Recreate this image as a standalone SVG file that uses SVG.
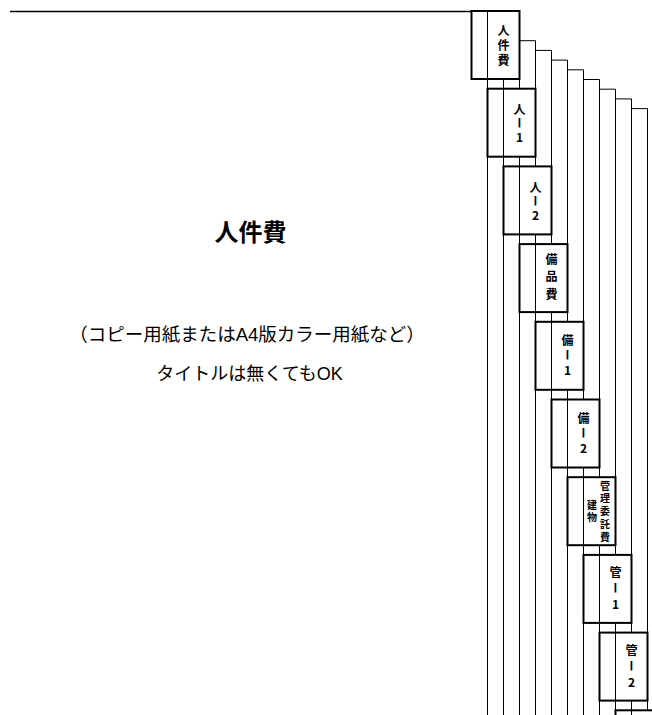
<svg xmlns="http://www.w3.org/2000/svg" width="652" height="715" viewBox="0 0 652 715">
<style>
.bg{fill:#fff}
.thin{fill:none;stroke:#000;stroke-width:1}
.top{fill:none;stroke:#000;stroke-width:1.5}
.tab{fill:#fff;stroke:#000;stroke-width:2}
.vt{writing-mode:vertical-rl;text-orientation:upright;font-family:"Noto Sans CJK JP",sans-serif;font-weight:bold;font-size:12px;text-anchor:middle;fill:#000}
.title{font-family:"Liberation Sans","Noto Sans CJK JP",sans-serif;font-weight:bold;font-size:24px;text-anchor:middle;fill:#000}
.note{font-family:"Liberation Sans","Noto Sans CJK JP",sans-serif;font-size:18px;text-anchor:middle;fill:#000}
</style>
<rect class="bg" x="0" y="0" width="652" height="715"/>
<g id="connectors">
<path class="top" d="M10,11.5H471.5"/>
<path class="thin" d="M487.5,11V715M503.5,79V715M519.5,11V715M519.5,40.7H535.5V715M535.5,50.4H551.5V715M551.5,60.1H567.5V715M567.5,69.8H583.5V715M583.5,79.5H599.5V715M599.5,89.2H615.5V715M615.5,98.9H631.5V715M631.5,108.6H647.5V715"/>
</g>
<g id="title">
<text class="title" x="250.5" y="241">人件費</text>
<text class="note" x="247" y="341" style="font-size:18.5px">（コピー用紙またはA4版カラー用紙など）</text>
<text class="note" x="249.5" y="380">タイトルは無くてもOK</text>
</g>
<g id="tab0"><rect class="tab" x="471.5" y="11" width="48" height="68"/><path class="thin" d="M487.5,11V79"/><text class="vt" x="503.5" y="47" style="letter-spacing:3px">人件費</text></g>
<g id="tab1"><rect class="tab" x="487.5" y="88.7" width="48" height="68"/><path class="thin" d="M503.5,88.7V156.7"/><text class="vt" x="519.5" y="124.5" style="letter-spacing:2px">人ー1</text></g>
<g id="tab2"><rect class="tab" x="503.5" y="166.4" width="48" height="68"/><path class="thin" d="M519.5,166.4V234.4"/><text class="vt" x="535.5" y="202.2" style="letter-spacing:2px">人ー2</text></g>
<g id="tab3"><rect class="tab" x="519.5" y="244.1" width="48" height="68"/><path class="thin" d="M535.5,244.1V312.1"/><text class="vt" x="551.5" y="279.6" style="letter-spacing:5.5px">備品費</text></g>
<g id="tab4"><rect class="tab" x="535.5" y="321.8" width="48" height="68"/><path class="thin" d="M551.5,321.8V389.8"/><text class="vt" x="567.5" y="357.3" style="letter-spacing:3px">備ー1</text></g>
<g id="tab5"><rect class="tab" x="551.5" y="399.5" width="48" height="68"/><path class="thin" d="M567.5,399.5V467.5"/><text class="vt" x="583.5" y="435" style="letter-spacing:3px">備ー2</text></g>
<g id="tab6"><rect class="tab" x="567.5" y="477.2" width="48" height="68"/><path class="thin" d="M583.5,477.2V545.2"/><text class="vt" x="605" y="512.7" style="font-size:10px;letter-spacing:2.7px">管理委託費</text><text class="vt" x="592" y="512.7" style="font-size:10px;letter-spacing:2.7px">建物</text></g>
<g id="tab7"><rect class="tab" x="583.5" y="554.9" width="48" height="68"/><path class="thin" d="M599.5,554.9V622.9"/><text class="vt" x="615.5" y="590.4" style="letter-spacing:4px">管ー1</text></g>
<g id="tab8"><rect class="tab" x="599.5" y="632.6" width="48" height="68"/><path class="thin" d="M615.5,632.6V700.6"/><text class="vt" x="631.5" y="668.1" style="letter-spacing:4px">管ー2</text></g>
<g id="tab9"><rect class="tab" x="615.5" y="710.3" width="48" height="68"/><path class="thin" d="M631.5,710.3V778.3"/></g>
</svg>
